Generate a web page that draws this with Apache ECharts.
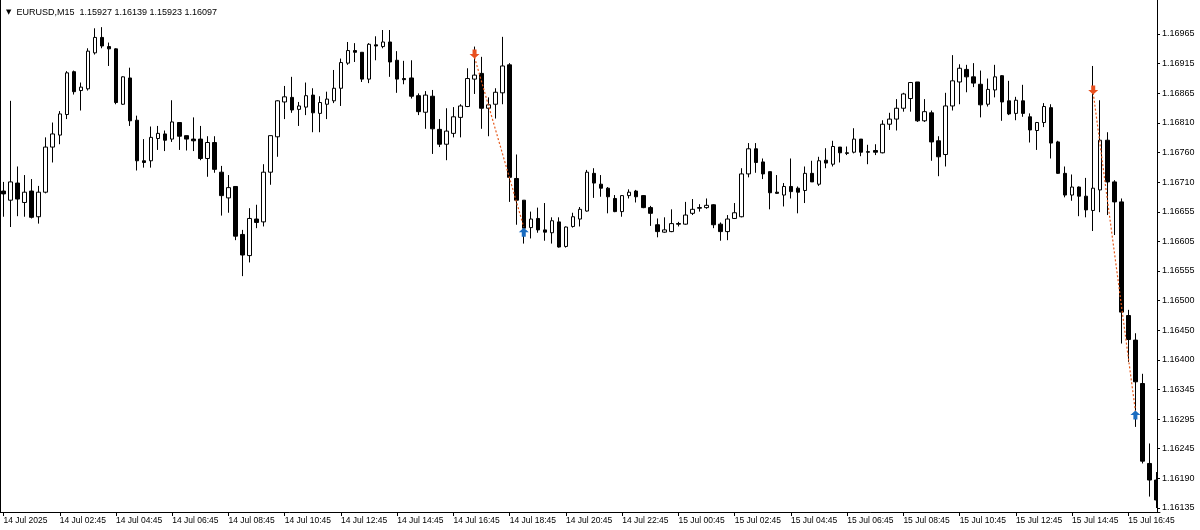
<!DOCTYPE html>
<html><head><meta charset="utf-8">
<script src="https://cdn.jsdelivr.net/npm/echarts@6/dist/echarts.min.js"></script>
<style>html,body{margin:0;padding:0;background:#fff}#c{width:1200px;height:530px}</style>
</head><body><div id="c"></div>
<script>
const headerText = 'EURUSD,M15  1.15927 1.16139 1.15923 1.16097';
const xTickLabels = ['14 Jul 2025','14 Jul 02:45','14 Jul 04:45','14 Jul 06:45','14 Jul 08:45','14 Jul 10:45','14 Jul 12:45','14 Jul 14:45','14 Jul 16:45','14 Jul 18:45','14 Jul 20:45','14 Jul 22:45','15 Jul 00:45','15 Jul 02:45','15 Jul 04:45','15 Jul 06:45','15 Jul 08:45','15 Jul 10:45','15 Jul 12:45','15 Jul 14:45','15 Jul 16:45'];
const yTickLabels = ['1.16965','1.16915','1.16865','1.16810','1.16760','1.16710','1.16655','1.16605','1.16555','1.16500','1.16450','1.16400','1.16345','1.16295','1.16245','1.16190','1.16135'];

const opens = [1.16690,1.16674,1.16704,1.16670,1.16690,1.16645,1.16688,1.16767,1.16788,1.16824,
1.16899,1.16866,1.16869,1.16932,1.16959,1.16943,1.16939,1.16842,1.16888,1.16814,
1.16743,1.16743,1.16782,1.16790,1.16781,1.16810,1.16787,1.16781,1.16781,1.16747,
1.16775,1.16723,1.16678,1.16698,1.16614,1.16577,1.16641,1.16636,1.16723,1.16785,
1.16846,1.16854,1.16833,1.16837,1.16858,1.16826,1.16842,1.16848,1.16870,1.16914,
1.16936,1.16933,1.16886,1.16946,1.16943,1.16951,1.16919,1.16887,1.16888,1.16857,
1.16828,1.16856,1.16798,1.16772,1.16791,1.16819,1.16838,1.16886,1.16896,1.16835,
1.16842,1.16862,1.16911,1.16712,1.16674,1.16626,1.16642,1.16622,1.16617,1.16636,
1.16593,1.16628,1.16641,1.16655,1.16721,1.16702,1.16695,1.16677,1.16654,1.16682,
1.16690,1.16682,1.16661,1.16631,1.16618,1.16619,1.16633,1.16632,1.16651,1.16661,
1.16661,1.16666,1.16632,1.16619,1.16642,1.16645,1.16720,1.16764,1.16741,1.16724,
1.16688,1.16683,1.16698,1.16695,1.16691,1.16721,1.16702,1.16744,1.16737,1.16767,
1.16757,1.16758,1.16781,1.16759,1.16761,1.16757,1.16807,1.16816,1.16835,1.16852,
1.16881,1.16813,1.16827,1.16778,1.16754,1.16839,1.16881,1.16903,1.16890,1.16877,
1.16842,1.16867,1.16892,1.16848,1.16826,1.16848,1.16820,1.16796,1.16810,1.16836,
1.16776,1.16721,1.16683,1.16697,1.16681,1.16656,1.16692,1.16779,1.16706,1.16671,
1.16472,1.16429,1.16353,1.16213,1.16184];
const closes = [1.16685,1.16706,1.16676,1.16688,1.16644,1.16688,1.16767,1.16790,1.16825,1.16897,
1.16864,1.16872,1.16935,1.16959,1.16944,1.16939,1.16845,1.16890,1.16813,1.16743,
1.16740,1.16784,1.16791,1.16779,1.16811,1.16786,1.16781,1.16778,1.16747,1.16775,
1.16728,1.16682,1.16696,1.16611,1.16578,1.16642,1.16635,1.16723,1.16787,1.16848,
1.16855,1.16832,1.16839,1.16857,1.16827,1.16845,1.16851,1.16870,1.16915,1.16936,
1.16933,1.16886,1.16947,1.16944,1.16951,1.16916,1.16886,1.16885,1.16856,1.16829,
1.16858,1.16799,1.16772,1.16795,1.16820,1.16839,1.16887,1.16893,1.16835,1.16841,
1.16863,1.16909,1.16714,1.16674,1.16625,1.16641,1.16622,1.16618,1.16638,1.16592,
1.16627,1.16645,1.16658,1.16723,1.16704,1.16695,1.16680,1.16654,1.16682,1.16688,
1.16680,1.16661,1.16651,1.16619,1.16622,1.16633,1.16632,1.16648,1.16658,1.16660,
1.16665,1.16631,1.16619,1.16641,1.16652,1.16720,1.16764,1.16740,1.16720,1.16687,
1.16686,1.16698,1.16689,1.16688,1.16721,1.16706,1.16743,1.16739,1.16768,1.16757,
1.16756,1.16781,1.16758,1.16758,1.16758,1.16807,1.16816,1.16835,1.16860,1.16880,
1.16813,1.16829,1.16776,1.16750,1.16839,1.16883,1.16905,1.16890,1.16879,1.16841,
1.16868,1.16890,1.16846,1.16825,1.16849,1.16826,1.16797,1.16810,1.16838,1.16774,
1.16721,1.16683,1.16697,1.16681,1.16657,1.16695,1.16779,1.16706,1.16671,1.16478,
1.16430,1.16356,1.16217,1.16184,1.16149];
const lows = [1.16645,1.16627,1.16646,1.16645,1.16642,1.16633,1.16686,1.16740,1.16772,1.16816,
1.16859,1.16831,1.16866,1.16929,1.16940,1.16909,1.16842,1.16841,1.16804,1.16726,
1.16731,1.16731,1.16762,1.16760,1.16776,1.16762,1.16761,1.16760,1.16744,1.16715,
1.16722,1.16647,1.16652,1.16604,1.16541,1.16565,1.16625,1.16628,1.16701,1.16750,
1.16816,1.16827,1.16804,1.16823,1.16793,1.16793,1.16816,1.16844,1.16839,1.16911,
1.16916,1.16881,1.16879,1.16919,1.16940,1.16890,1.16862,1.16877,1.16852,1.16823,
1.16799,1.16755,1.16767,1.16744,1.16784,1.16784,1.16837,1.16860,1.16799,1.16786,
1.16817,1.16842,1.16671,1.16631,1.16598,1.16607,1.16617,1.16603,1.16598,1.16591,
1.16591,1.16626,1.16628,1.16654,1.16678,1.16680,1.16651,1.16653,1.16645,1.16677,
1.16670,1.16660,1.16629,1.16609,1.16617,1.16618,1.16628,1.16631,1.16648,1.16654,
1.16659,1.16625,1.16603,1.16604,1.16641,1.16644,1.16714,1.16722,1.16711,1.16658,
1.16685,1.16663,1.16677,1.16651,1.16669,1.16706,1.16699,1.16730,1.16733,1.16740,
1.16753,1.16756,1.16751,1.16737,1.16753,1.16756,1.16797,1.16796,1.16829,1.16829,
1.16811,1.16811,1.16743,1.16716,1.16733,1.16831,1.16842,1.16863,1.16872,1.16819,
1.16838,1.16854,1.16813,1.16823,1.16814,1.16820,1.16775,1.16762,1.16802,1.16747,
1.16720,1.16679,1.16673,1.16646,1.16644,1.16620,1.16653,1.16648,1.16613,1.16423,
1.16391,1.16277,1.16213,1.16155,1.16135];
const highs = [1.16706,1.16848,1.16733,1.16718,1.16711,1.16699,1.16784,1.16810,1.16830,1.16900,
1.16901,1.16880,1.16940,1.16975,1.16977,1.16950,1.16940,1.16891,1.16906,1.16822,
1.16781,1.16803,1.16804,1.16796,1.16849,1.16810,1.16787,1.16819,1.16804,1.16786,
1.16786,1.16734,1.16718,1.16698,1.16622,1.16660,1.16666,1.16737,1.16787,1.16849,
1.16874,1.16890,1.16846,1.16880,1.16870,1.16856,1.16864,1.16902,1.16922,1.16951,
1.16949,1.16933,1.16949,1.16961,1.16972,1.16972,1.16935,1.16918,1.16919,1.16861,
1.16865,1.16867,1.16816,1.16835,1.16837,1.16842,1.16905,1.16943,1.16925,1.16854,
1.16870,1.16960,1.16914,1.16754,1.16674,1.16654,1.16661,1.16669,1.16644,1.16644,
1.16628,1.16652,1.16662,1.16727,1.16730,1.16718,1.16697,1.16683,1.16683,1.16693,
1.16692,1.16683,1.16664,1.16642,1.16644,1.16658,1.16636,1.16671,1.16676,1.16667,
1.16677,1.16667,1.16635,1.16648,1.16669,1.16730,1.16774,1.16774,1.16747,1.16724,
1.16718,1.16704,1.16747,1.16698,1.16733,1.16743,1.16750,1.16765,1.16778,1.16767,
1.16768,1.16800,1.16781,1.16771,1.16772,1.16814,1.16827,1.16851,1.16862,1.16881,
1.16881,1.16851,1.16831,1.16786,1.16862,1.16928,1.16912,1.16911,1.16914,1.16901,
1.16887,1.16911,1.16893,1.16883,1.16855,1.16876,1.16826,1.16811,1.16844,1.16842,
1.16778,1.16733,1.16719,1.16698,1.16713,1.16909,1.16849,1.16793,1.16709,1.16677,
1.16482,1.16441,1.16370,1.16248,1.16198];

const sellBars = [67, 155];
const sellPrices = [1.16930, 1.16867];
const buyBars = [74, 161];
const buyPrices = [1.16618, 1.16298];
const tradeFromBars = [67, 155];
const tradeFromPrices = [1.16924, 1.16862];
const tradeToBars = [74, 161];
const tradeToPrices = [1.16627, 1.16305];

// categories: 15-minute bars starting 14 Jul 00:45
const months = ['Jan','Feb','Mar','Apr','May','Jun','Jul','Aug','Sep','Oct','Nov','Dec'];
const categories = opens.map((_, i) => {
  const t = new Date(Date.UTC(2025, 6, 14, 0, 45) + i * 15 * 60000);
  const p = n => String(n).padStart(2, '0');
  return t.getUTCDate() + ' ' + months[t.getUTCMonth()] + ' ' + p(t.getUTCHours()) + ':' + p(t.getUTCMinutes());
});

const yTop = Number(yTickLabels[0]);
const yBot = Number(yTickLabels[yTickLabels.length - 1]);
const yStep = (yTop - yBot) / (yTickLabels.length - 1);
const yTickValues = yTickLabels.map((_, k) => yTop - k * yStep);
const pxPrice = (yTop - yBot) / 474;
const yMax = yTop + 34 * pxPrice;
const yMin = yBot - 4 * pxPrice;

const FONT = "'Liberation Sans', 'DejaVu Sans', sans-serif";
const candleData = opens.map((o, i) => [o, closes[i], lows[i], highs[i]]);

const chart = echarts.init(document.getElementById('c'), null, {renderer: 'canvas'});
const tradeSeries = tradeFromBars.map((b, i) => ({
  type: 'line', z: 4, symbol: 'none', silent: true, animation: false,
  data: [[b, tradeFromPrices[i]], [tradeToBars[i], tradeToPrices[i]]],
  lineStyle: {color: '#e55a1c', width: 1.2, type: [2, 2]}
}));

chart.setOption({
  animation: false,
  backgroundColor: '#fff',
  title: {
    text: '{t|▼}  ' + headerText, left: 1, top: 3,
    textStyle: {fontSize: 9, fontWeight: 'normal', color: '#000', fontFamily: FONT,
      rich: {t: {fontSize: 7, color: '#000', fontFamily: "'DejaVu Sans', sans-serif"}}}
  },
  grid: {left: -2, right: 40, top: 0, bottom: 18, containLabel: false},
  xAxis: {
    type: 'category', data: categories, boundaryGap: true, z: 0,
    axisLine: {show: true, onZero: false, lineStyle: {color: '#000', width: 1}},
    axisTick: {show: true, interval: 7, alignWithLabel: true, length: 4, lineStyle: {color: '#000'}},
    axisLabel: {interval: 7, align: 'left', margin: 4, fontSize: 8.5, color: '#000', fontFamily: FONT,
      formatter: (v, i) => xTickLabels[Math.round(i / 8)] || ''},
    splitLine: {show: false}
  },
  yAxis: {
    type: 'value', position: 'right', min: yMin, max: yMax, offset: -3, z: 10, scale: true,
    axisLine: {show: true, lineStyle: {color: '#000', width: 1}},
    axisTick: {show: true, length: 3, customValues: yTickValues, lineStyle: {color: '#000'}},
    axisLabel: {customValues: yTickValues, margin: 5, fontSize: 9, color: '#000', fontFamily: FONT,
      formatter: v => yTickLabels[Math.round((yTop - v) / yStep)] || ''},
    splitLine: {show: false}
  },
  graphic: [
    {type: 'rect', z: 5, silent: true, shape: {x: 1157.5, y: 0, width: 4, height: 512}, style: {fill: '#fff'}},
    {type: 'line', z: 20, silent: true, shape: {x1: 0.5, y1: 0, x2: 0.5, y2: 512}, style: {stroke: '#000', lineWidth: 1}}
  ],
  series: [
    {
      type: 'candlestick', z: 2, data: candleData, barWidth: 4,
      itemStyle: {color: '#fff', color0: '#000', borderColor: '#000', borderColor0: '#000', borderWidth: 1}
    },
    ...tradeSeries,
    {
      type: 'scatter', z: 6, silent: true,
      data: sellBars.map((b, i) => [b, sellPrices[i]]),
      symbol: 'path://M3,0 L7,0 L7,5 L10,5 L5,10 L0,5 L3,5 Z', symbolSize: [10, 9],
      itemStyle: {color: '#e8501e', opacity: 1}
    },
    {
      type: 'scatter', z: 6, silent: true,
      data: buyBars.map((b, i) => [b, buyPrices[i]]),
      symbol: 'path://M5,0 L10,5 L7,5 L7,10 L3,10 L3,5 L0,5 Z', symbolSize: [10, 9],
      itemStyle: {color: '#1a6cc0', opacity: 1}
    }
  ]
});
</script></body></html>
